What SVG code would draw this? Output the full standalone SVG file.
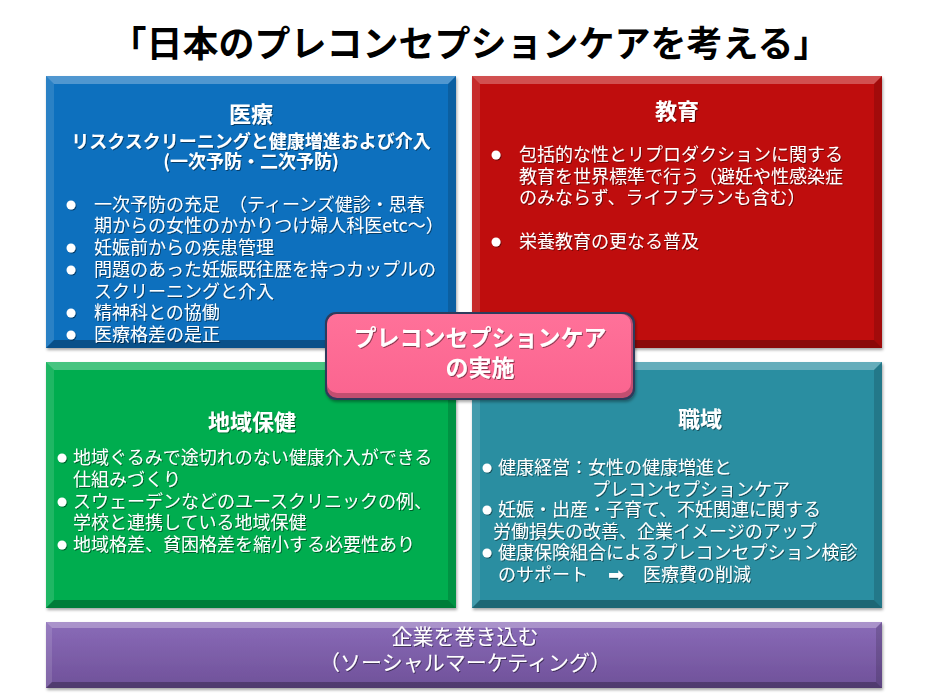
<svg xmlns="http://www.w3.org/2000/svg" width="930" height="698" viewBox="0 0 930 698">
<defs>
<filter id="sh" x="-5%" y="-5%" width="110%" height="115%"><feDropShadow dx="1" dy="2" stdDeviation="1.5" flood-color="#000" flood-opacity="0.35"/></filter>
<filter id="ts" x="-5%" y="-20%" width="110%" height="140%"><feDropShadow dx="1" dy="1" stdDeviation="0.6" flood-color="#000" flood-opacity="0.45"/></filter>
<linearGradient id="pg" x1="0" y1="0" x2="0" y2="1"><stop offset="0" stop-color="#8a6bb8"/><stop offset="1" stop-color="#6f5199"/></linearGradient>
<linearGradient id="pk" x1="0" y1="0" x2="0" y2="1"><stop offset="0" stop-color="#ff7199"/><stop offset="1" stop-color="#fb6590"/></linearGradient>
</defs>
<style>
text{font-family:"Noto Sans CJK JP","Noto Sans",sans-serif;fill:#fff}
.h{font-size:22px;font-weight:bold;text-anchor:middle}
.b{font-size:18px}
.sub{font-size:18px;font-weight:bold;text-anchor:middle}
.lt{fill:#fff;opacity:0.28}
.ll{fill:#fff;opacity:0.12}
.dr{fill:#000;opacity:0.15}
.db{fill:#000;opacity:0.28}
.dot{fill:#fff}
</style>
<rect width="930" height="698" fill="#fff"/>
<g id="title"><text x="470" y="57" style="font-size:36px;font-weight:bold;fill:#000;text-anchor:middle">「日本のプレコンセプションケアを考える」</text></g>

<g id="iryo">
<rect x="46" y="76" width="410" height="272" fill="#0b6fbe" filter="url(#sh)"/>
<polygon class="lt" points="46,76 456,76 448,84 54,84"/>
<polygon class="ll" points="46,76 54,84 54,340 46,348"/>
<polygon class="dr" points="456,76 456,348 448,340 448,84"/>
<polygon class="db" points="46,348 54,340 448,340 456,348"/>
<g filter="url(#ts)">
<text class="h" x="251" y="122">医療</text>
<text class="sub" x="251" y="148">リスクスクリーニングと健康増進および介入</text>
<text class="sub" x="251" y="168">(一次予防・二次予防)</text>
<circle class="dot" cx="71" cy="205" r="4.5"/><text class="b" x="94" y="211">一次予防の充足　（ティーンズ健診・思春</text>
<text class="b" x="94" y="232">期からの女性のかかりつけ婦人科医etc～）</text>
<circle class="dot" cx="71" cy="248" r="4.5"/><text class="b" x="94" y="254">妊娠前からの疾患管理</text>
<circle class="dot" cx="71" cy="270" r="4.5"/><text class="b" x="94" y="276">問題のあった妊娠既往歴を持つカップルの</text>
<text class="b" x="94" y="298">スクリーニングと介入</text>
<circle class="dot" cx="71" cy="313" r="4.5"/><text class="b" x="94" y="319">精神科との協働</text>
<circle class="dot" cx="71" cy="335" r="4.5"/><text class="b" x="94" y="341">医療格差の是正</text>
</g>
</g>

<g id="kyoiku">
<rect x="472" y="76" width="410" height="272" fill="#bf0a0a" filter="url(#sh)"/>
<polygon class="lt" points="472,76 882,76 874,84 480,84"/>
<polygon class="ll" points="472,76 480,84 480,340 472,348"/>
<polygon class="dr" points="882,76 882,348 874,340 874,84"/>
<polygon class="db" points="472,348 480,340 874,340 882,348"/>
<g filter="url(#ts)">
<text class="h" x="677" y="119">教育</text>
<circle class="dot" cx="496" cy="155" r="4.5"/><text class="b" x="519" y="161">包括的な性とリプロダクションに関する</text>
<text class="b" x="519" y="183">教育を世界標準で行う（避妊や性感染症</text>
<text class="b" x="519" y="204">のみならず、ライフプランも含む）</text>
<circle class="dot" cx="496" cy="242" r="4.5"/><text class="b" x="519" y="248">栄養教育の更なる普及</text>
</g>
</g>

<g id="chiiki">
<rect x="46" y="362" width="410" height="246" fill="#05ad4f" filter="url(#sh)"/>
<polygon class="lt" points="46,362 456,362 448,370 54,370"/>
<polygon class="ll" points="46,362 54,370 54,600 46,608"/>
<polygon class="dr" points="456,362 456,608 448,600 448,370"/>
<polygon class="db" points="46,608 54,600 448,600 456,608"/>
<g filter="url(#ts)">
<text class="h" x="252" y="430">地域保健</text>
<circle class="dot" cx="62" cy="458" r="4.5"/><text class="b" x="73" y="464">地域ぐるみで途切れのない健康介入ができる</text>
<text class="b" x="73" y="486">仕組みづくり</text>
<circle class="dot" cx="62" cy="502" r="4.5"/><text class="b" x="73" y="508">スウェーデンなどのユースクリニックの例、</text>
<text class="b" x="73" y="529">学校と連携している地域保健</text>
<circle class="dot" cx="62" cy="545" r="4.5"/><text class="b" x="73" y="551">地域格差、貧困格差を縮小する必要性あり</text>
</g>
</g>

<g id="shokuiki">
<rect x="472" y="362" width="410" height="246" fill="#2c8ea1" filter="url(#sh)"/>
<polygon class="lt" points="472,362 882,362 874,370 480,370"/>
<polygon class="ll" points="472,362 480,370 480,600 472,608"/>
<polygon class="dr" points="882,362 882,608 874,600 874,370"/>
<polygon class="db" points="472,608 480,600 874,600 882,608"/>
<g filter="url(#ts)">
<text class="h" x="700" y="427">職域</text>
<circle class="dot" cx="487" cy="468" r="4.5"/><text class="b" x="498" y="474">健康経営：女性の健康増進と</text>
<text class="b" x="592" y="496">プレコンセプションケア</text>
<circle class="dot" cx="487" cy="510" r="4.5"/><text class="b" x="498" y="516">妊娠・出産・子育て、不妊関連に関する</text>
<text class="b" x="493" y="538">労働損失の改善、企業イメージのアップ</text>
<circle class="dot" cx="487" cy="553" r="4.5"/><text class="b" x="498" y="559">健康保険組合によるプレコンセプション検診</text>
<text class="b" x="498" y="581">のサポート</text>
<text x="608" y="581" style="font-size:19px;font-weight:bold;font-family:'DejaVu Sans',sans-serif">➡</text>
<text class="b" x="643" y="581">医療費の削減</text>
</g>
</g>

<g id="kigyo">
<rect x="46" y="622" width="836" height="66" fill="url(#pg)" filter="url(#sh)"/>
<polygon class="lt" points="46,622 882,622 876,628 52,628"/>
<polygon class="ll" points="46,622 52,628 52,682 46,688"/>
<polygon class="dr" points="882,622 882,688 876,682 876,628"/>
<polygon class="db" points="46,688 52,682 876,682 882,688"/>
<g filter="url(#ts)">
<text x="465" y="644" style="font-size:21px;text-anchor:middle">企業を巻き込む</text>
<text x="465" y="670" style="font-size:21px;text-anchor:middle">（ソーシャルマーケティング）</text>
</g>
</g>

<g id="center">
<rect x="325" y="312" width="310" height="88" rx="11" fill="#2f3b5c" filter="url(#sh)"/>
<rect x="327" y="314" width="306" height="84" rx="10" fill="#c24e70"/>
<rect x="327" y="314" width="304" height="79" rx="10" fill="url(#pk)"/>
<g filter="url(#ts)">
<text x="480" y="346" style="font-size:23px;font-weight:bold;text-anchor:middle">プレコンセプションケア</text>
<text x="480" y="376" style="font-size:23px;font-weight:bold;text-anchor:middle">の実施</text>
</g>
</g>

<g id="connectors"></g>
</svg>
